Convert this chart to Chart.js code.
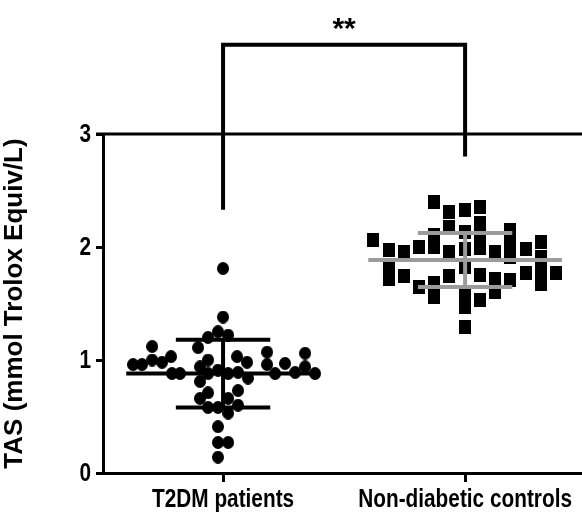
<!DOCTYPE html>
<html>
<head>
<meta charset="utf-8">
<script src="https://cdn.jsdelivr.net/npm/chart.js@4.4.1/dist/chart.umd.min.js"></script>
<style>
  body { margin: 0; background: #fff; }
  #wrap { width: 582px; height: 513px; }
</style>
</head>
<body>
<div id="wrap"><canvas id="tasChart" width="582" height="513"></canvas></div>
<script>
// categories and tick labels
const categories = ['T2DM patients', 'Non-diabetic controls'];
const yTicks = [0, 1, 2, 3];

// T2DM patients: TAS values and swarm offsets (fraction of category spacing)
const t2dmValues = [1.81, 1.38, 1.20, 1.25, 1.22, 1.12, 0.96, 0.96, 1.00, 0.98, 1.03,
  0.88, 0.88, 1.11, 1.00, 0.94, 0.81, 0.88, 0.91, 0.88, 1.03, 0.98, 0.89, 0.84, 0.73,
  0.66, 0.71, 0.58, 0.58, 0.53, 0.66, 0.60, 1.07, 0.96, 0.88, 0.97, 0.89, 1.06, 0.94,
  0.88, 0.41, 0.27, 0.27, 0.14];
const t2dmOffsets = [0, 0, -0.062, -0.021, 0.021, -0.293, -0.372, -0.335, -0.293, -0.252, -0.215,
  -0.211, -0.178, -0.103, -0.062, -0.095, -0.095, -0.062, -0.021, 0.021, 0.058, 0.099, 0.062, 0.103, 0.062,
  -0.095, -0.062, -0.062, -0.021, 0.021, 0.021, 0.062, 0.182, 0.182, 0.215, 0.256, 0.298, 0.339, 0.339,
  0.38, -0.021, -0.021, 0.021, -0.021];

// Non-diabetic controls
const controlValues = [2.06, 1.97, 1.84, 1.72, 1.96, 1.74, 2.00, 1.65,
  2.40, 2.11, 2.00, 1.68, 1.56, 2.31, 2.18, 1.96, 1.74,
  2.33, 2.13, 1.98, 1.82, 1.59, 1.47, 1.29,
  2.35, 2.21, 2.10, 1.99, 1.75, 1.53, 1.96, 1.72, 1.60,
  2.15, 2.03, 1.91, 1.71, 1.98, 1.77, 2.04, 1.91, 1.80, 1.67, 1.77];
const controlOffsets = [-0.38, -0.314, -0.314, -0.314, -0.252, -0.252, -0.19, -0.19,
  -0.128, -0.128, -0.128, -0.128, -0.128, -0.066, -0.066, -0.066, -0.066,
  0, 0, 0, 0, 0, 0, 0,
  0.062, 0.062, 0.062, 0.062, 0.062, 0.062, 0.124, 0.124, 0.124,
  0.186, 0.186, 0.186, 0.186, 0.252, 0.252, 0.314, 0.314, 0.314, 0.314, 0.376];

// mean and SD per group
const groupMeans = [0.88, 1.885];
const groupSD = [0.30, 0.24];

// significance bracket (y values)
const bracketTop = 3.79;
const bracketEnds = [2.33, 2.80];
const bracketLabel = '**';

const sans = '"Liberation Sans", Arial, sans-serif';

function makeMark(shape, w, h) {
    const c = document.createElement('canvas');
    c.width = w;
    c.height = h;
    const g = c.getContext('2d');
    g.fillStyle = '#000';
    if (shape === 'circle') {
        g.beginPath();
        g.ellipse(w / 2, h / 2, w / 2, h / 2, 0, 0, Math.PI * 2);
        g.fill();
    } else {
        g.fillRect(0, 0, w, h);
    }
    return c;
}

function toPoints(values, offsets, center) {
    return values.map((v, i) => ({ x: center + offsets[i], y: v }));
}

// mean line, SD caps and the vertical SD line for one group
function errorBars(center, mean, sd, color) {
    const base = { type: 'line', showLine: true, borderColor: color, borderWidth: 4,
        pointRadius: 0, order: 0, borderCapStyle: 'butt' };
    return [
        { ...base, data: [{ x: center - 0.4, y: mean }, { x: center + 0.4, y: mean }] },
        { ...base, data: [{ x: center - 0.195, y: mean + sd }, { x: center + 0.195, y: mean + sd }] },
        { ...base, data: [{ x: center - 0.195, y: mean - sd }, { x: center + 0.195, y: mean - sd }] },
        { ...base, data: [{ x: center, y: mean - sd }, { x: center, y: mean + sd }] }
    ];
}

// condensed text, the source uses a narrow face that is not installed
function narrowText(ctx, text, px, py, align, baseline) {
    ctx.save();
    ctx.translate(px, py);
    ctx.scale(0.8, 1);
    ctx.textAlign = align;
    ctx.textBaseline = baseline;
    ctx.fillText(text, 0, 0);
    ctx.restore();
}

const extras = {
    id: 'extras',
    afterDatasetsDraw(chart) {
        const { ctx, scales: { x, y }, chartArea } = chart;
        ctx.save();
        ctx.strokeStyle = '#000';
        // top line at y = 3
        ctx.lineWidth = 3;
        ctx.beginPath();
        ctx.moveTo(chartArea.left - 7, y.getPixelForValue(3));
        ctx.lineTo(chartArea.right, y.getPixelForValue(3));
        ctx.stroke();
        // bracket
        const x1 = x.getPixelForValue(1), x2 = x.getPixelForValue(2);
        const yt = y.getPixelForValue(bracketTop);
        ctx.lineWidth = 4;
        ctx.lineJoin = 'miter';
        ctx.beginPath();
        ctx.moveTo(x1, y.getPixelForValue(bracketEnds[0]));
        ctx.lineTo(x1, yt);
        ctx.lineTo(x2, yt);
        ctx.lineTo(x2, y.getPixelForValue(bracketEnds[1]));
        ctx.stroke();
        ctx.fillStyle = '#000';
        ctx.font = 'bold 30px ' + sans;
        ctx.textAlign = 'center';
        ctx.textBaseline = 'alphabetic';
        ctx.fillText(bracketLabel, (x1 + x2) / 2, yt - 7);
        // tick labels
        ctx.font = 'bold 26px ' + sans;
        categories.forEach((c, i) => {
            narrowText(ctx, c, x.getPixelForValue(i + 1), chartArea.bottom + 34, 'center', 'alphabetic');
        });
        yTicks.forEach(v => {
            narrowText(ctx, String(v), chartArea.left - 12, y.getPixelForValue(v) + 1, 'right', 'middle');
        });
        ctx.restore();
    }
};

const datasets = [
    { data: toPoints(t2dmValues, t2dmOffsets, 1), pointStyle: makeMark('circle', 12, 13), order: 1 },
    { data: toPoints(controlValues, controlOffsets, 2), pointStyle: makeMark('rect', 12, 14), order: 1 },
    ...errorBars(1, groupMeans[0], groupSD[0], '#000'),
    ...errorBars(2, groupMeans[1], groupSD[1], '#9b9b9b')
];

new Chart(document.getElementById('tasChart'), {
    type: 'scatter',
    data: { datasets },
    options: {
        responsive: false,
        animation: false,
        layout: { autoPadding: false, padding: { top: 134, right: 0, left: 0, bottom: 0 } },
        plugins: { legend: { display: false }, tooltip: { enabled: false } },
        scales: {
            x: {
                type: 'linear',
                min: 0.504,
                max: 2.483,
                afterBuildTicks: s => { s.ticks = categories.map((c, i) => ({ value: i + 1 })); },
                afterFit: s => { s.height = 40; s.paddingLeft = 0; s.paddingRight = 0; },
                grid: { drawOnChartArea: false, drawTicks: true, tickLength: 9, color: '#000', lineWidth: 3 },
                border: { display: true, color: '#000', width: 3 },
                ticks: { display: false }
            },
            y: {
                min: 0,
                max: 3,
                afterBuildTicks: s => { s.ticks = yTicks.map(v => ({ value: v })); },
                afterFit: s => { s.width = 103; s.paddingTop = 0; s.paddingBottom = 0; },
                grid: { drawOnChartArea: false, drawTicks: true, tickLength: 7, color: '#000', lineWidth: 3 },
                border: { display: true, color: '#000', width: 3 },
                ticks: { display: false },
                title: {
                    display: true,
                    text: 'TAS (mmol Trolox Equiv/L)',
                    color: '#000',
                    padding: { top: 0, bottom: 0 },
                    font: { family: sans, size: 26, weight: 'bold', lineHeight: 1.15 }
                }
            }
        }
    },
    plugins: [extras]
});
</script>
</body>
</html>
